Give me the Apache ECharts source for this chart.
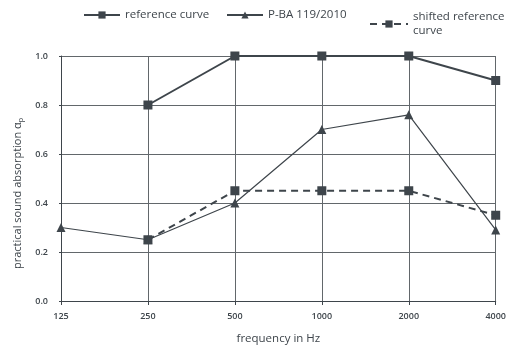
<!DOCTYPE html>
<html>
<head>
<meta charset="utf-8">
<script src="https://cdn.jsdelivr.net/npm/echarts@6/dist/echarts.min.js"></script>
<style>
  html, body { margin: 0; padding: 0; background: #fff; }
  #chart { width: 509px; height: 350px; }
</style>
</head>
<body>
<div id="chart"></div>
<script>
// Octave-band centre frequencies (Hz)
const frequencies = ['125', '250', '500', '1000', '2000', '4000'];
// Practical sound absorption coefficient per band
const referenceCurve = [null, 0.80, 1.00, 1.00, 1.00, 0.90];
const pba = [0.30, 0.25, 0.40, 0.70, 0.76, 0.29];
const shiftedReference = [null, 0.25, 0.45, 0.45, 0.45, 0.35];
const yTicks = ['0.0', '0.2', '0.4', '0.6', '0.8', '1.0'];

const INK = '#3e454b';
const GRIDC = '#62676b';
const FONT = '"Open Sans", "Noto Sans", sans-serif';

const chart = echarts.init(document.getElementById('chart'), null, { renderer: 'canvas' });

function legendBox(name, left, extra) {
  return Object.assign({
    data: [name],
    left: left,
    top: 9,
    padding: 0,
    itemWidth: 36,
    itemHeight: 9,
    itemGap: 0,
    selectedMode: false,
    textStyle: { color: INK, fontFamily: FONT, fontSize: 11.5 }
  }, extra || {});
}

chart.setOption({
  animation: false,
  legend: [
    legendBox('reference curve', 83),
    legendBox('P-BA 119/2010', 226),
    legendBox('shifted reference curve', 369, {
      top: 3,
      itemWidth: 38,
      formatter: 'shifted reference\ncurve',
      textStyle: { color: INK, fontFamily: FONT, fontSize: 11.5, lineHeight: 14, padding: [14, 0, 0, 0] }
    })
  ],
  grid: { left: 61, right: 10, top: 56, bottom: 47 },
  xAxis: {
    type: 'category',
    data: frequencies,
    boundaryGap: false,
    name: 'frequency in Hz',
    nameLocation: 'middle',
    nameGap: 32,
    nameTextStyle: { color: INK, fontFamily: FONT, fontSize: 11.5 },
    axisLine: { lineStyle: { color: INK, width: 1 } },
    axisTick: { show: true, length: 4, inside: false, alignWithLabel: true, lineStyle: { color: INK } },
    axisLabel: { color: INK, fontFamily: FONT, fontSize: 9, fontWeight: 600, margin: 11 },
    splitLine: { show: true, lineStyle: { color: GRIDC, width: 1 } }
  },
  yAxis: {
    type: 'value',
    min: 0,
    max: 1,
    interval: 0.2,
    name: '{a|practical sound absorption α}{s|p}',
    nameLocation: 'middle',
    nameGap: 33,
    nameTextStyle: {
      padding: [0, 30, 0, 0],
      rich: {
        a: { color: INK, fontFamily: FONT, fontSize: 11 },
        s: { color: INK, fontFamily: FONT, fontSize: 7, padding: [6, 0, 0, 0] }
      }
    },
    axisLine: { show: true, lineStyle: { color: INK, width: 1 } },
    axisTick: { show: true, length: 2, lineStyle: { color: INK } },
    axisLabel: {
      color: INK, fontFamily: FONT, fontSize: 9, fontWeight: 600, margin: 13,
      formatter: function (v) { return yTicks[Math.round(v * 5)]; }
    },
    splitLine: { show: true, lineStyle: { color: GRIDC, width: 1 } }
  },
  series: [
    {
      name: 'reference curve',
      type: 'line',
      data: referenceCurve,
      symbol: 'rect',
      symbolSize: 9,
      lineStyle: { color: INK, width: 2 },
      itemStyle: { color: INK },
      z: 4
    },
    {
      name: 'P-BA 119/2010',
      type: 'line',
      data: pba,
      symbol: 'triangle',
      symbolSize: 9,
      lineStyle: { color: INK, width: 1.2 },
      itemStyle: { color: INK },
      z: 3
    },
    {
      name: 'shifted reference curve',
      type: 'line',
      data: shiftedReference,
      symbol: 'rect',
      symbolSize: 9,
      lineStyle: { color: INK, width: 2, type: [7, 5] },
      itemStyle: { color: INK },
      z: 2
    }
  ]
});
</script>
</body>
</html>
